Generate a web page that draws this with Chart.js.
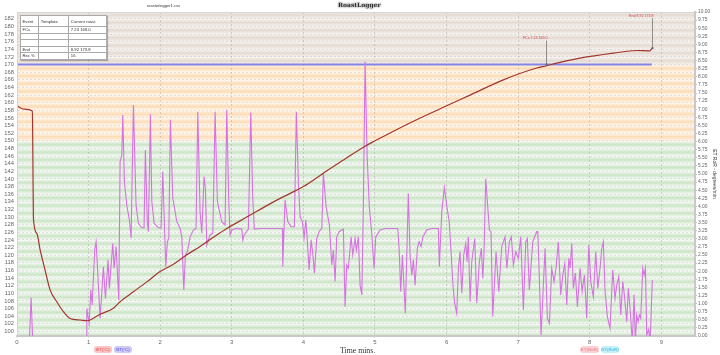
<!DOCTYPE html>
<html><head><meta charset="utf-8">
<script src="https://cdn.jsdelivr.net/npm/chart.js@4.4.1/dist/chart.umd.min.js"></script>
<style>
html,body{margin:0;padding:0;background:#fff;width:720px;height:355px;overflow:hidden;font-family:"Liberation Sans",Arial,sans-serif;}
#wrap{position:relative;width:720px;height:355px;}
canvas{position:absolute;left:0;top:0;}
.abs{position:absolute;white-space:nowrap;}
#evt{position:absolute;left:20px;top:15px;width:87px;border-collapse:collapse;background:#fff;font-size:4.2px;color:#333;box-shadow:1px 1px 1px rgba(0,0,0,0.25);}
#evt td{border:0.6px solid #aaa;padding:0 0 0 1.5px;height:5.5px;line-height:5px;vertical-align:middle;}
#evt tr.h td{height:10px;}
.pill{position:absolute;top:346px;height:7px;border-radius:3px;font-size:4.4px;line-height:7px;text-align:center;}
</style></head>
<body><div id="wrap">
<canvas id="c" width="720" height="355"></canvas>
<div class="abs" id="fname" style="left:147px;top:2.5px;font-size:4px;color:#333;">roasterlogger1.csv</div>
<div class="abs" id="logo" style="left:338px;top:0.5px;font-family:'DejaVu Serif',serif;font-weight:bold;font-size:6px;color:#2a2a2a;text-shadow:0 0 1px #fff,0 0 2px #777,0 0 2px #999;">RoastLogger</div>
<table id="evt"><tbody id="evtBody"></tbody></table>
<div class="abs" id="xtitle" style="left:340px;top:346px;font-family:'Liberation Serif',serif;font-size:7.8px;color:#333;">Time mins.</div>
<div class="abs" id="rtitle" style="left:685px;top:170.5px;font-size:5px;line-height:6px;color:#444;transform:rotate(90deg);transform-origin:center center;width:60px;text-align:center;">ET RoR - degrees/min</div>
<div id="pills"></div>
</div>
<script>
// ---------- DATA ----------
const seriesNames = ["ET(°C)", "BT(°C)", "ET(RoR)", "BT(RoR)"];
const chartTitle = "roasterlogger1.csv";

const etTime = [0, 0.099, 0.215, 0.222, 0.229, 0.277, 0.323, 0.392, 0.462, 0.556, 0.648, 0.742, 0.881, 0.983, 1.021, 1.161, 1.346, 1.440, 1.626, 1.813, 1.999, 2.184, 2.372, 2.557, 2.743, 2.930, 3.116, 3.302, 3.489, 3.675, 4.000, 4.279, 4.536, 4.862, 5.001, 5.466, 5.933, 6.328, 6.793, 7.260, 7.399, 7.539, 7.865, 8.330, 8.656, 8.842, 8.866];
const etTemp = [159.2, 158.3, 157.8, 145.0, 129.7, 125.7, 121.4, 116.1, 110.9, 107.8, 105.2, 103.4, 103.0, 102.8, 103.0, 104.5, 106.1, 107.8, 110.4, 113.0, 115.7, 117.6, 120.1, 122.3, 124.7, 127.0, 129.0, 131.0, 133.0, 134.9, 138.0, 141.5, 144.7, 148.6, 150.0, 154.5, 158.6, 162.0, 166.0, 169.1, 169.7, 170.4, 171.7, 173.0, 173.7, 173.6, 174.3];

const btTime = [0, 8.866];
const btTemp = [170.0, 170.0];

const rorTime = [0, 0.17, 0.197, 0.222, 0.97, 0.975, 1.007, 1.031, 1.049, 1.087, 1.105, 1.161, 1.207, 1.235, 1.272, 1.290, 1.338, 1.356, 1.384, 1.422, 1.440, 1.464, 1.478, 1.500, 1.533, 1.570, 1.594, 1.626, 1.663, 1.695, 1.743, 1.775, 1.793, 1.821, 1.835, 1.863, 1.883, 1.915, 1.975, 2.013, 2.036, 2.078, 2.100, 2.120, 2.142, 2.176, 2.232, 2.278, 2.302, 2.330, 2.352, 2.380, 2.418, 2.464, 2.501, 2.525, 2.557, 2.581, 2.613, 2.631, 2.651, 2.697, 2.735, 2.767, 2.799, 2.860, 2.906, 2.930, 2.958, 2.976, 3.000, 3.070, 3.140, 3.154, 3.172, 3.232, 3.265, 3.293, 3.315, 3.395, 3.707, 3.712, 3.744, 3.782, 3.828, 3.874, 3.902, 3.930, 3.954, 3.986, 4.010, 4.034, 4.052, 4.080, 4.108, 4.131, 4.154, 4.187, 4.223, 4.257, 4.279, 4.317, 4.363, 4.397, 4.419, 4.443, 4.466, 4.499, 4.559, 4.582, 4.606, 4.628, 4.666, 4.690, 4.722, 4.740, 4.768, 4.792, 4.816, 4.838, 4.862, 4.890, 4.922, 4.955, 4.987, 5.011, 5.071, 5.141, 5.318, 5.337, 5.360, 5.383, 5.402, 5.424, 5.466, 5.490, 5.514, 5.536, 5.560, 5.592, 5.616, 5.644, 5.668, 5.723, 5.793, 5.885, 5.899, 5.933, 5.969, 6.007, 6.035, 6.063, 6.086, 6.109, 6.142, 6.165, 6.188, 6.212, 6.240, 6.268, 6.286, 6.304, 6.328, 6.352, 6.394, 6.422, 6.458, 6.486, 6.506, 6.524, 6.547, 6.575, 6.598, 6.621, 6.645, 6.691, 6.729, 6.771, 6.817, 6.841, 6.877, 6.905, 6.933, 6.966, 7.003, 7.036, 7.073, 7.106, 7.128, 7.156, 7.204, 7.260, 7.274, 7.296, 7.320, 7.352, 7.376, 7.408, 7.436, 7.469, 7.501, 7.529, 7.561, 7.595, 7.623, 7.651, 7.679, 7.707, 7.725, 7.749, 7.771, 7.799, 7.827, 7.865, 7.893, 7.925, 7.958, 7.986, 8.014, 8.050, 8.084, 8.112, 8.144, 8.168, 8.190, 8.214, 8.246, 8.283, 8.321, 8.353, 8.377, 8.405, 8.433, 8.461, 8.483, 8.517, 8.539, 8.563, 8.595, 8.619, 8.637, 8.656, 8.675, 8.693, 8.712, 8.740, 8.759, 8.777, 8.796, 8.824, 8.843, 8.874];
const rorValue = [-2, -0.3, 1.19, -0.3, -0.5, 0.85, 0.39, 1.42, 0.96, 2.71, 2.91, 0.55, 2.14, 1.16, 2.35, 1.47, 2.86, 2.09, 2.76, 1.11, 5.38, 5.59, 6.82, 4.76, 4.04, 3.58, 3.03, 7.13, 4.04, 3.48, 3.34, 3.34, 5.74, 3.48, 3.22, 6.84, 4.15, 3.48, 3.34, 3.34, 5.07, 2.14, 2.91, 3.01, 6.67, 4.25, 3.53, 3.32, 3.06, 1.42, 2.50, 2.60, 3.06, 3.27, 3.32, 6.92, 3.84, 3.17, 4.92, 4.56, 2.81, 3.12, 3.17, 6.92, 4.15, 3.53, 3.43, 6.98, 4.15, 3.12, 3.27, 3.32, 3.30, 2.96, 3.12, 3.30, 6.90, 4.25, 3.30, 3.32, 3.32, 2.14, 4.20, 3.53, 3.37, 3.37, 6.92, 4.76, 3.68, 3.53, 3.03, 3.58, 3.06, 2.04, 2.96, 2.55, 1.94, 3.01, 3.24, 3.32, 5.02, 3.99, 3.43, 2.19, 2.65, 1.68, 3.06, 3.22, 3.30, 0.90, 2.19, 2.09, 3.06, 2.50, 3.01, 2.65, 3.06, 1.57, 1.27, 4.04, 8.47, 5.59, 3.94, 3.17, 2.09, 3.06, 3.27, 3.32, 3.32, 2.71, 1.37, 2.50, 1.68, 0.70, 4.40, 2.50, 1.88, 2.35, 1.57, 2.71, 2.91, 2.76, 3.06, 3.27, 3.32, 3.32, 2.14, 3.84, 4.58, 3.94, 3.58, 2.60, 1.68, 1.06, 0.70, 2.09, 2.60, 1.32, 2.50, 2.86, 2.29, 3.06, 1.06, 2.29, 3.01, 1.01, 2.29, 2.71, 1.78, 2.60, 4.85, 3.99, 3.27, 3.22, 0.60, 2.60, 1.37, 2.76, 3.06, 2.09, 2.91, 3.06, 2.19, 2.60, 2.40, 3.06, 0.80, 2.91, 3.01, 1.42, 2.91, 3.22, 3.22, 1.78, 0.03, 1.57, 2.71, 0.55, 0.39, 2.09, 1.68, 2.09, 2.91, 1.27, 1.88, 2.24, 0.96, 2.40, 2.09, 2.86, 1.47, 1.94, 0.90, 2.09, 1.37, 1.88, 0.55, 2.81, 1.68, 1.21, 2.60, 1.47, 2.09, 2.71, 2.91, 1.37, 0.60, 0.24, 2.04, 1.16, 1.57, 1.83, 0.65, 1.68, 1.27, 0.44, 1.47, 0.85, -0.20, 1.27, -0.20, 0.65, 0.44, 0.65, 0.55, 2.09, 1.88, 2.09, 0.03, 0.20, -0.20, 1.73];

const tempTicks = [100,102,104,106,108,110,112,114,116,118,120,122,124,126,128,130,132,134,136,138,140,142,144,146,148,150,152,154,156,158,160,162,164,166,168,170,172,174,176,178,180,182];
const timeTicks = [0,1,2,3,4,5,6,7,8,9];
const zoneLimits = [150, 170];

const eventNames = ["FCs", "End"];
const eventTimes = [7.385, 8.866];
const eventTemps = [170.0, 174.3];
const eventLabels = ["FCs 7.23 169.0", "End 8.92 173.8"];

const tableHeader = ["Event", "Template", "Current roast"];
const tableRows = [["FCs", "", "7.23 169.0"], ["", "", ""], ["", "", ""], ["End", "", "8.92 173.8"], ["Rec %", "", "16"]];

// ---------- DECORATIONS (HTML text) ----------
document.getElementById('fname').textContent = chartTitle;
(function(){
  const body = document.getElementById('evtBody');
  const widths = ['17px','30px','40px'];
  let tr = document.createElement('tr'); tr.className='h';
  tableHeader.forEach((h,i)=>{const td=document.createElement('td');td.textContent=h;td.style.width=widths[i];tr.appendChild(td);});
  body.appendChild(tr);
  tableRows.forEach(r=>{const tr=document.createElement('tr');r.forEach(c=>{const td=document.createElement('td');td.textContent=c;tr.appendChild(td);});body.appendChild(tr);});
  const pillStyles = [
    {left:94, width:18, bg:'#f9c4c4', fg:'#e0393e'},
    {left:114, width:18, bg:'#cfcaf8', fg:'#4848d8'},
    {left:580, width:19, bg:'#fbd2d6', fg:'#ee7a86'},
    {left:601, width:18, bg:'#c4f0fa', fg:'#38b8dc'}
  ];
  const pills = document.getElementById('pills');
  seriesNames.forEach((n,i)=>{const s=pillStyles[i];const d=document.createElement('div');d.className='pill';d.textContent=n;
    d.style.left=s.left+'px';d.style.width=s.width+'px';d.style.background=s.bg;d.style.color=s.fg;pills.appendChild(d);});
})();

// ---------- CHART ----------
const zoneColors = [
  {dark:'#cbe4c6', light:'#f7fbf6'},
  {dark:'#fcdcb6', light:'#fff8ef'},
  {dark:'#e4dad2', light:'#f7f3f0'}
];

const bandPlugin = {
  id:'bands',
  beforeDraw(chart){
    const {ctx, chartArea:a, scales} = chart; const y = scales.y;
    ctx.save();
    ctx.fillStyle='#fff'; ctx.fillRect(0,0,chart.width,chart.height);
    ctx.beginPath(); ctx.rect(a.left,a.top,a.width,a.height); ctx.clip();
    for (let v = 96; v < 186; v += 2) {
      const yTop = y.getPixelForValue(v+2), yBot = y.getPixelForValue(v);
      const z = v >= zoneLimits[1] ? 2 : (v >= zoneLimits[0] ? 1 : 0);
      const g = ctx.createLinearGradient(0, yTop, 0, yBot);
      g.addColorStop(0, zoneColors[z].light);
      g.addColorStop(0.5, zoneColors[z].dark);
      g.addColorStop(1, zoneColors[z].light);
      ctx.fillStyle = g;
      ctx.fillRect(a.left, yTop, a.width, yBot - yTop + 0.5);
    }
    ctx.restore();
  },
  afterDatasetsDraw(chart){
    const {ctx, chartArea:a, scales} = chart;
    const x = scales.x, y = scales.y;
    const offs = [24, 30];
    ctx.save();
    ctx.font = '3.6px "Liberation Sans", Arial, sans-serif';
    eventNames.forEach((n,i)=>{
      const px = Math.round(x.getPixelForValue(eventTimes[i])) + 0.5;
      const py = y.getPixelForValue(eventTemps[i]);
      const top = py - offs[i];
      ctx.strokeStyle = '#777'; ctx.lineWidth = 0.8;
      ctx.beginPath(); ctx.moveTo(px, top); ctx.lineTo(px, py); ctx.stroke();
      ctx.fillStyle = '#666'; ctx.fillRect(px-1, py-1, 2, 2);
      ctx.fillStyle = '#d04050'; ctx.textAlign = 'right'; ctx.textBaseline = 'bottom';
      ctx.fillText(eventLabels[i], px + 1, top - 0.5);
    });
    ctx.strokeStyle = '#d6d6d6'; ctx.lineWidth = 1;
    ctx.beginPath(); ctx.moveTo(a.left+0.5, a.bottom); ctx.lineTo(a.left+0.5, a.top+0.5); ctx.lineTo(a.right, a.top+0.5); ctx.stroke();
    ctx.restore();
  }
};

new Chart(document.getElementById('c'), {
  type:'line',
  data:{datasets:[
    {label:seriesNames[1], data:btTime.map((t,i)=>({x:t,y:btTemp[i]})), yAxisID:'y', borderColor:'#8484e6', borderWidth:2, pointRadius:0, order:3},
    {label:seriesNames[0], data:etTime.map((t,i)=>({x:t,y:etTemp[i]})), yAxisID:'y', borderColor:'#a3362c', borderWidth:1.2, pointRadius:0, cubicInterpolationMode:'monotone', order:1},
    {label:seriesNames[2], data:rorTime.map((t,i)=>({x:t,y:rorValue[i]})), yAxisID:'y2', borderColor:'#d672e2', borderWidth:1.1, pointRadius:0, tension:0, order:2}
  ]},
  options:{
    responsive:false, animation:false, devicePixelRatio:1,
    layout:{padding:{top:12,left:0,right:0,bottom:0}},
    plugins:{legend:{display:false}, tooltip:{enabled:false}, title:{display:false}},
    scales:{
      x:{type:'linear', min:0, max:9.47,
         afterBuildTicks(s){ s.ticks = timeTicks.map(v=>({value:v})); },
         afterFit(s){ s.height = 19; },
         grid:{color:'rgba(110,110,110,0.35)', lineWidth:0.7, drawTicks:true, tickLength:2},
         border:{display:true, color:'#c8c8c8', width:2, dash:[2,2]},
         ticks:{font:{size:6, family:'"Liberation Sans", Arial'}, color:'#666', padding:1, maxRotation:0, autoSkip:false}
      },
      y:{type:'linear', position:'left', min:98.8, max:183.8,
         afterBuildTicks(s){ s.ticks = tempTicks.map(v=>({value:v})); },
         afterFit(s){ s.width = 17; },
         grid:{color:'rgba(110,110,110,0.3)', lineWidth:0.6, drawTicks:false},
         border:{display:true, color:'#cfcfcf', width:1, dash:[2,2]},
         ticks:{font:{size:5.8, family:'"Liberation Sans", Arial'}, color:'#666', padding:3, autoSkip:false}
      },
      y2:{type:'linear', position:'right', min:0, max:10,
         afterBuildTicks(s){ const t=[]; for(let i=0;i<=40;i++) t.push({value:i*0.25}); s.ticks=t; },
         afterFit(s){ s.width = 25; },
         grid:{drawOnChartArea:false, drawTicks:true, tickLength:2, color:'#999', lineWidth:0.6},
         border:{display:true, color:'#c8c8c8', width:2},
         ticks:{font:{size:4.9, family:'"Liberation Sans", Arial'}, color:'#666', padding:1, autoSkip:false, callback:v=>Number(v).toFixed(2)}
      }
    }
  },
  plugins:[bandPlugin]
});
</script>
</body></html>
